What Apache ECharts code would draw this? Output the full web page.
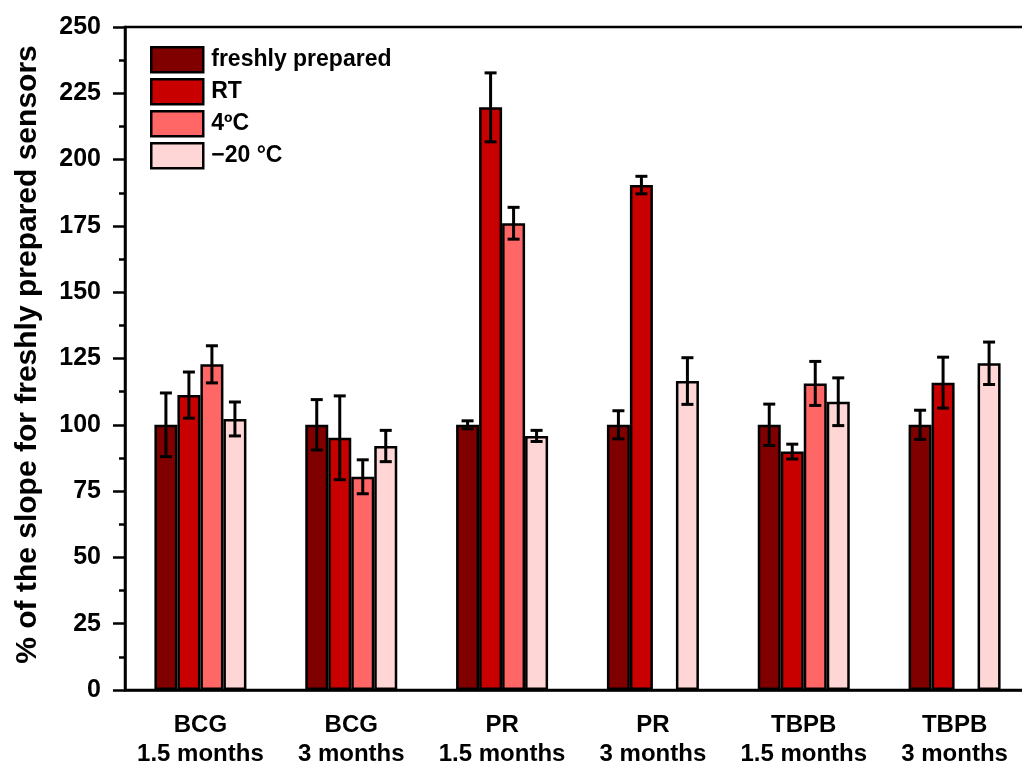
<!DOCTYPE html>
<html>
<head>
<meta charset="utf-8">
<script src="https://cdn.jsdelivr.net/npm/echarts@6/dist/echarts.min.js"></script>
<style>html,body{margin:0;padding:0;background:#fff}#c{width:1022px;height:762px}</style>
</head>
<body>
<div id="c"></div>
<script>
const categories = ['BCG\n1.5 months', 'BCG\n3 months', 'PR\n1.5 months', 'PR\n3 months', 'TBPB\n1.5 months', 'TBPB\n3 months'];
const seriesNames = ['freshly prepared', 'RT', '4ºC', '\u221220 °C'];
const freshVals = [100, 100, 100, 100, 100, 100];
const freshErr = [12, 9.5, 1.5, 5.3, 7.8, 5.5];
const rtVals = [111.2, 95.1, 219.7, 190.4, 89.9, 115.9];
const rtErr = [8.7, 15.8, 13, 3.3, 2.8, 9.6];
const c4Vals = [122.8, 80.4, 176, null, 115.6, null];
const c4Err = [7, 6.4, 6, null, 8.3, null];
const m20Vals = [102.2, 92.0, 95.8, 116.5, 108.7, 123.2];
const m20Err = [6.4, 5.9, 2.1, 8.8, 9, 8];
const yTicks = [0, 25, 50, 75, 100, 125, 150, 175, 200, 225, 250];

const colors = ['#800000', '#C80000', '#FF6666', '#FFD6D6'];
const allVals = [freshVals, rtVals, c4Vals, m20Vals];
const allErr = [freshErr, rtErr, c4Err, m20Err];
const BAR_W = 23;
const FONT = 'Liberation Sans';

const chart = echarts.init(document.getElementById('c'), null, {renderer: 'canvas'});

const barSeries = seriesNames.map((n, i) => ({
  name: n,
  type: 'bar',
  data: allVals[i].map(v => v == null ? '-' : v),
  barWidth: BAR_W,
  barGap: '0%',
  itemStyle: {color: colors[i], borderColor: '#000', borderWidth: 2.5},
  emphasis: {disabled: true},
  z: 2
}));

const errData = [];
allVals.forEach((arr, si) => {
  arr.forEach((v, ci) => {
    if (v != null && allErr[si][ci] != null) {
      errData.push([ci, si, v - allErr[si][ci], v + allErr[si][ci]]);
    }
  });
});

const errSeries = {
  type: 'custom',
  name: 'err',
  data: errData,
  z: 5,
  encode: {x: 0, y: [2, 3]},
  renderItem: function (params, api) {
    const ci = api.value(0), si = api.value(1);
    const lo = api.coord([ci, api.value(2)]);
    const hi = api.coord([ci, api.value(3)]);
    const x = lo[0] + (si - 1.5) * BAR_W;
    const cap = 6;
    const st = {stroke: '#000', lineWidth: 3};
    return {
      type: 'group',
      children: [
        {type: 'line', shape: {x1: x, y1: lo[1], x2: x, y2: hi[1]}, style: st},
        {type: 'line', shape: {x1: x - cap, y1: lo[1], x2: x + cap, y2: lo[1]}, style: st},
        {type: 'line', shape: {x1: x - cap, y1: hi[1], x2: x + cap, y2: hi[1]}, style: st}
      ]
    };
  }
};

chart.setOption({
  animation: false,
  backgroundColor: '#fff',
  textStyle: {fontFamily: FONT},
  grid: {left: 125, top: 27, width: 905, bottom: 72, containLabel: false, outerBoundsMode: 'none', show: true, borderColor: '#000', borderWidth: 2.5, backgroundColor: 'transparent'},
  legend: {
    data: seriesNames,
    orient: 'vertical',
    left: 150,
    top: 46,
    padding: 0,
    itemWidth: 52,
    itemHeight: 25,
    itemGap: 4.5,
    icon: 'rect',
    itemStyle: {borderColor: '#000', borderWidth: 2.5},
    textStyle: {fontFamily: FONT, fontWeight: 'bold', fontSize: 23, lineHeight: 25, color: '#000', padding: [0, 0, 0, 3]}
  },
  xAxis: {
    type: 'category',
    data: categories,
    axisLine: {lineStyle: {color: '#000', width: 2.5}},
    axisTick: {alignWithLabel: true, length: 13, lineStyle: {color: '#000', width: 2.5}},
    axisLabel: {color: '#000', fontFamily: FONT, fontWeight: 'bold', fontSize: 24, lineHeight: 29, margin: 21, interval: 0},
    splitLine: {show: false}
  },
  yAxis: {
    type: 'value',
    min: yTicks[0],
    max: yTicks[yTicks.length - 1],
    interval: 25,
    name: '% of the slope for freshly prepared sensors',
    nameLocation: 'middle',
    nameGap: 82,
    nameRotate: 90,
    nameTextStyle: {color: '#000', fontFamily: FONT, fontWeight: 'bold', fontSize: 30, padding: [0, 0, 0, 8]},
    axisLine: {show: true, lineStyle: {color: '#000', width: 2.5}},
    axisTick: {show: true, length: 12, lineStyle: {color: '#000', width: 2.5}},
    minorTick: {show: true, splitNumber: 2, length: 6, lineStyle: {color: '#000', width: 2.5}},
    axisLabel: {color: '#000', fontFamily: FONT, fontWeight: 'bold', fontSize: 25, margin: 24},
    splitLine: {show: false}
  },
  series: barSeries.concat([errSeries])
});
</script>
</body>
</html>
